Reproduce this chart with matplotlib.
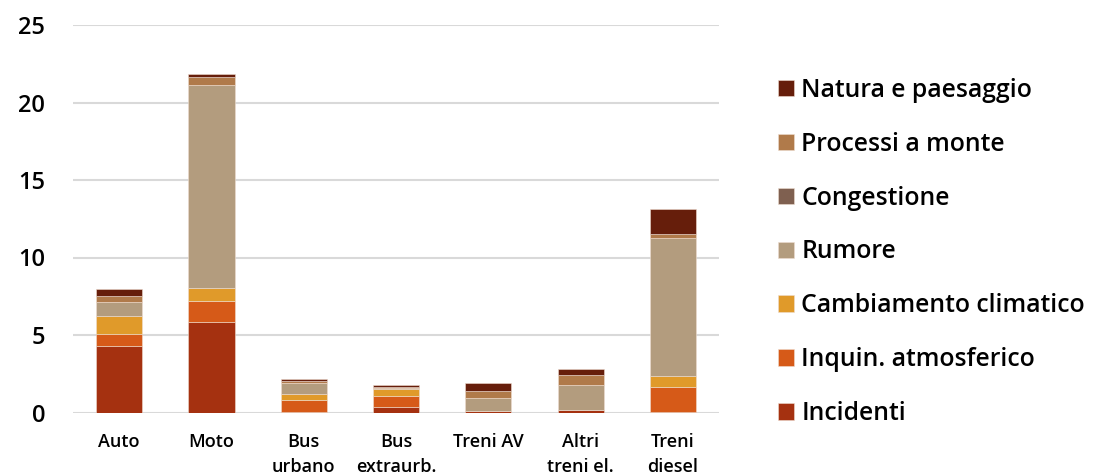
import numpy as np
import matplotlib
matplotlib.use("Agg")
import matplotlib.pyplot as plt

plt.rcParams['font.family'] = ['Open Sans', 'DejaVu Sans']
plt.rcParams['font.weight'] = 'semibold'

categories = ['Auto', 'Moto', 'Bus\nurbano', 'Bus\nextraurb.', 'Treni AV', 'Altri\ntreni el.', 'Treni\ndiesel']

# stacked from bottom to top
series = ['Incidenti', 'Inquin. atmosferico', 'Cambiamento climatico', 'Rumore',
          'Congestione', 'Processi a monte', 'Natura e paesaggio']
incidenti = [4.31, 5.86, 0.05, 0.34, 0.08, 0.16, 0.02]
inquin = [0.77, 1.35, 0.74, 0.74, 0.0, 0.0, 1.64]
clima = [1.13, 0.82, 0.38, 0.42, 0.0, 0.0, 0.71]
rumore = [0.94, 13.08, 0.71, 0.05, 0.86, 1.61, 8.87]
congestione = [0.0, 0.0, 0.0, 0.0, 0.0, 0.0, 0.0]
processi = [0.39, 0.55, 0.17, 0.12, 0.45, 0.67, 0.28]
natura = [0.41, 0.18, 0.11, 0.12, 0.49, 0.39, 1.59]
values = [incidenti, inquin, clima, rumore, congestione, processi, natura]
colors = ['#A53110', '#D65A18', '#E09A2A', '#B39C7E', '#7F6050', '#B07A4A', '#661E0B']

fig = plt.figure(figsize=(10.93, 4.76), dpi=100)
ax = fig.add_axes([73 / 1093, 1 - 412.5 / 476, (719 - 73) / 1093, (412.5 - 25) / 476])

x = np.arange(len(categories))
bottom = np.zeros(len(categories))
handles = []
for name, vals, c in zip(series, values, colors):
    b = ax.bar(x, vals, 0.5, bottom=bottom, color=c, edgecolor='#EEDDD0',
               linewidth=0.4, label=name, zorder=3)
    handles.append(b)
    bottom += np.array(vals)

ax.set_xlim(-0.5, 6.5)
ax.set_ylim(0, 25)
ax.set_yticks([0, 5, 10, 15, 20, 25])
ax.yaxis.grid(True, color='#D9D9D9', linewidth=1.5, zorder=0)
ax.set_axisbelow(True)
for s in ax.spines.values():
    s.set_visible(False)
ax.tick_params(axis='both', length=0)
ax.tick_params(axis='y', labelsize=17, pad=20)
ax.set_xticks(x)
ax.set_xticklabels(categories, fontsize=13, linespacing=1.5)
ax.tick_params(axis='x', pad=15)

fig.legend(handles[::-1], series[::-1], loc='center left',
           bbox_to_anchor=(778 / 1093, 1 - 252 / 476), frameon=False,
           prop={'size': 17.8, 'weight': 'semibold'}, labelspacing=1.17,
           handlelength=0.65, handleheight=0.65,
           handletextpad=0.3, borderpad=0, borderaxespad=0)

fig.savefig('out.png', dpi=100)
